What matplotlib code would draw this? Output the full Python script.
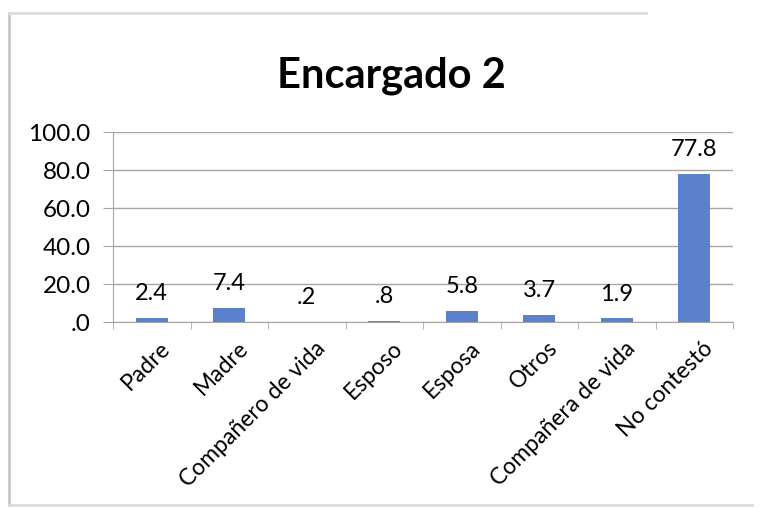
import matplotlib.pyplot as plt
from matplotlib.lines import Line2D
from matplotlib.transforms import ScaledTranslation

# Datos
categorias = ['Padre', 'Madre', 'Compañero de vida', 'Esposo', 'Esposa',
              'Otros', 'Compañera de vida', 'No contestó']
valores = [2.4, 7.4, 0.2, 0.8, 5.8, 3.7, 1.9, 77.8]
etiquetas = ['2.4', '7.4', '.2', '.8', '5.8', '3.7', '1.9', '77.8']
y_ticks = [0, 20, 40, 60, 80, 100]
y_labels = ['.0', '20.0', '40.0', '60.0', '80.0', '100.0']

plt.rcParams['font.family'] = ['Lato', 'DejaVu Sans']

fig = plt.figure(figsize=(7.6, 5.08), dpi=100)
ax = fig.add_axes([0.1487, 0.366, 0.8158, 0.374])

x = list(range(len(categorias)))
ax.bar(x, valores, width=0.41, color='#5b80cc', zorder=3)

# etiquetas de valor sobre cada barra
for xi, v, txt in zip(x, valores, etiquetas):
    ax.annotate(txt, xy=(xi, v), xytext=(0, 10), textcoords='offset points',
                ha='center', va='bottom', fontsize=17)

ax.set_xlim(-0.5, len(categorias) - 0.5)
ax.set_ylim(0, 100)
ax.set_yticks(y_ticks)
ax.set_yticklabels(y_labels, fontsize=17.5)
ax.yaxis.grid(True, color='#aaa5a5', linewidth=1, zorder=0)

ax.set_xticks(x)
ax.set_xticklabels(categorias, rotation=45, ha='right', rotation_mode='anchor',
                   fontsize=16.5)
ax.tick_params(axis='x', length=0, pad=11)
# correr un poco las etiquetas hacia la derecha
desplaza = ScaledTranslation(8 / 100, 0, fig.dpi_scale_trans)
for lab in ax.get_xticklabels():
    lab.set_transform(lab.get_transform() + desplaza)
ax.set_xticks([i + 0.5 for i in range(-1, len(categorias))], minor=True)
ax.tick_params(axis='x', which='minor', length=5, color='#aaa5a5')
ax.tick_params(axis='y', length=7, color='#aaa5a5', pad=9)

for s in ['top', 'right']:
    ax.spines[s].set_visible(False)
for s in ['left', 'bottom']:
    ax.spines[s].set_color('#aaa5a5')

fig.suptitle('Encargado 2', x=0.515, y=0.888, fontsize=30, fontweight='bold')

# marco del gráfico
fig.add_artist(Line2D([0.012, 0.012], [0.005, 0.975], color='#c8c8c8', lw=2))
fig.add_artist(Line2D([0.012, 0.85], [0.975, 0.975], color='#dcdcdc', lw=2))
fig.add_artist(Line2D([0.012, 0.99], [0.005, 0.005], color='#dcdcdc', lw=2))

fig.savefig('out.png', dpi=100)
